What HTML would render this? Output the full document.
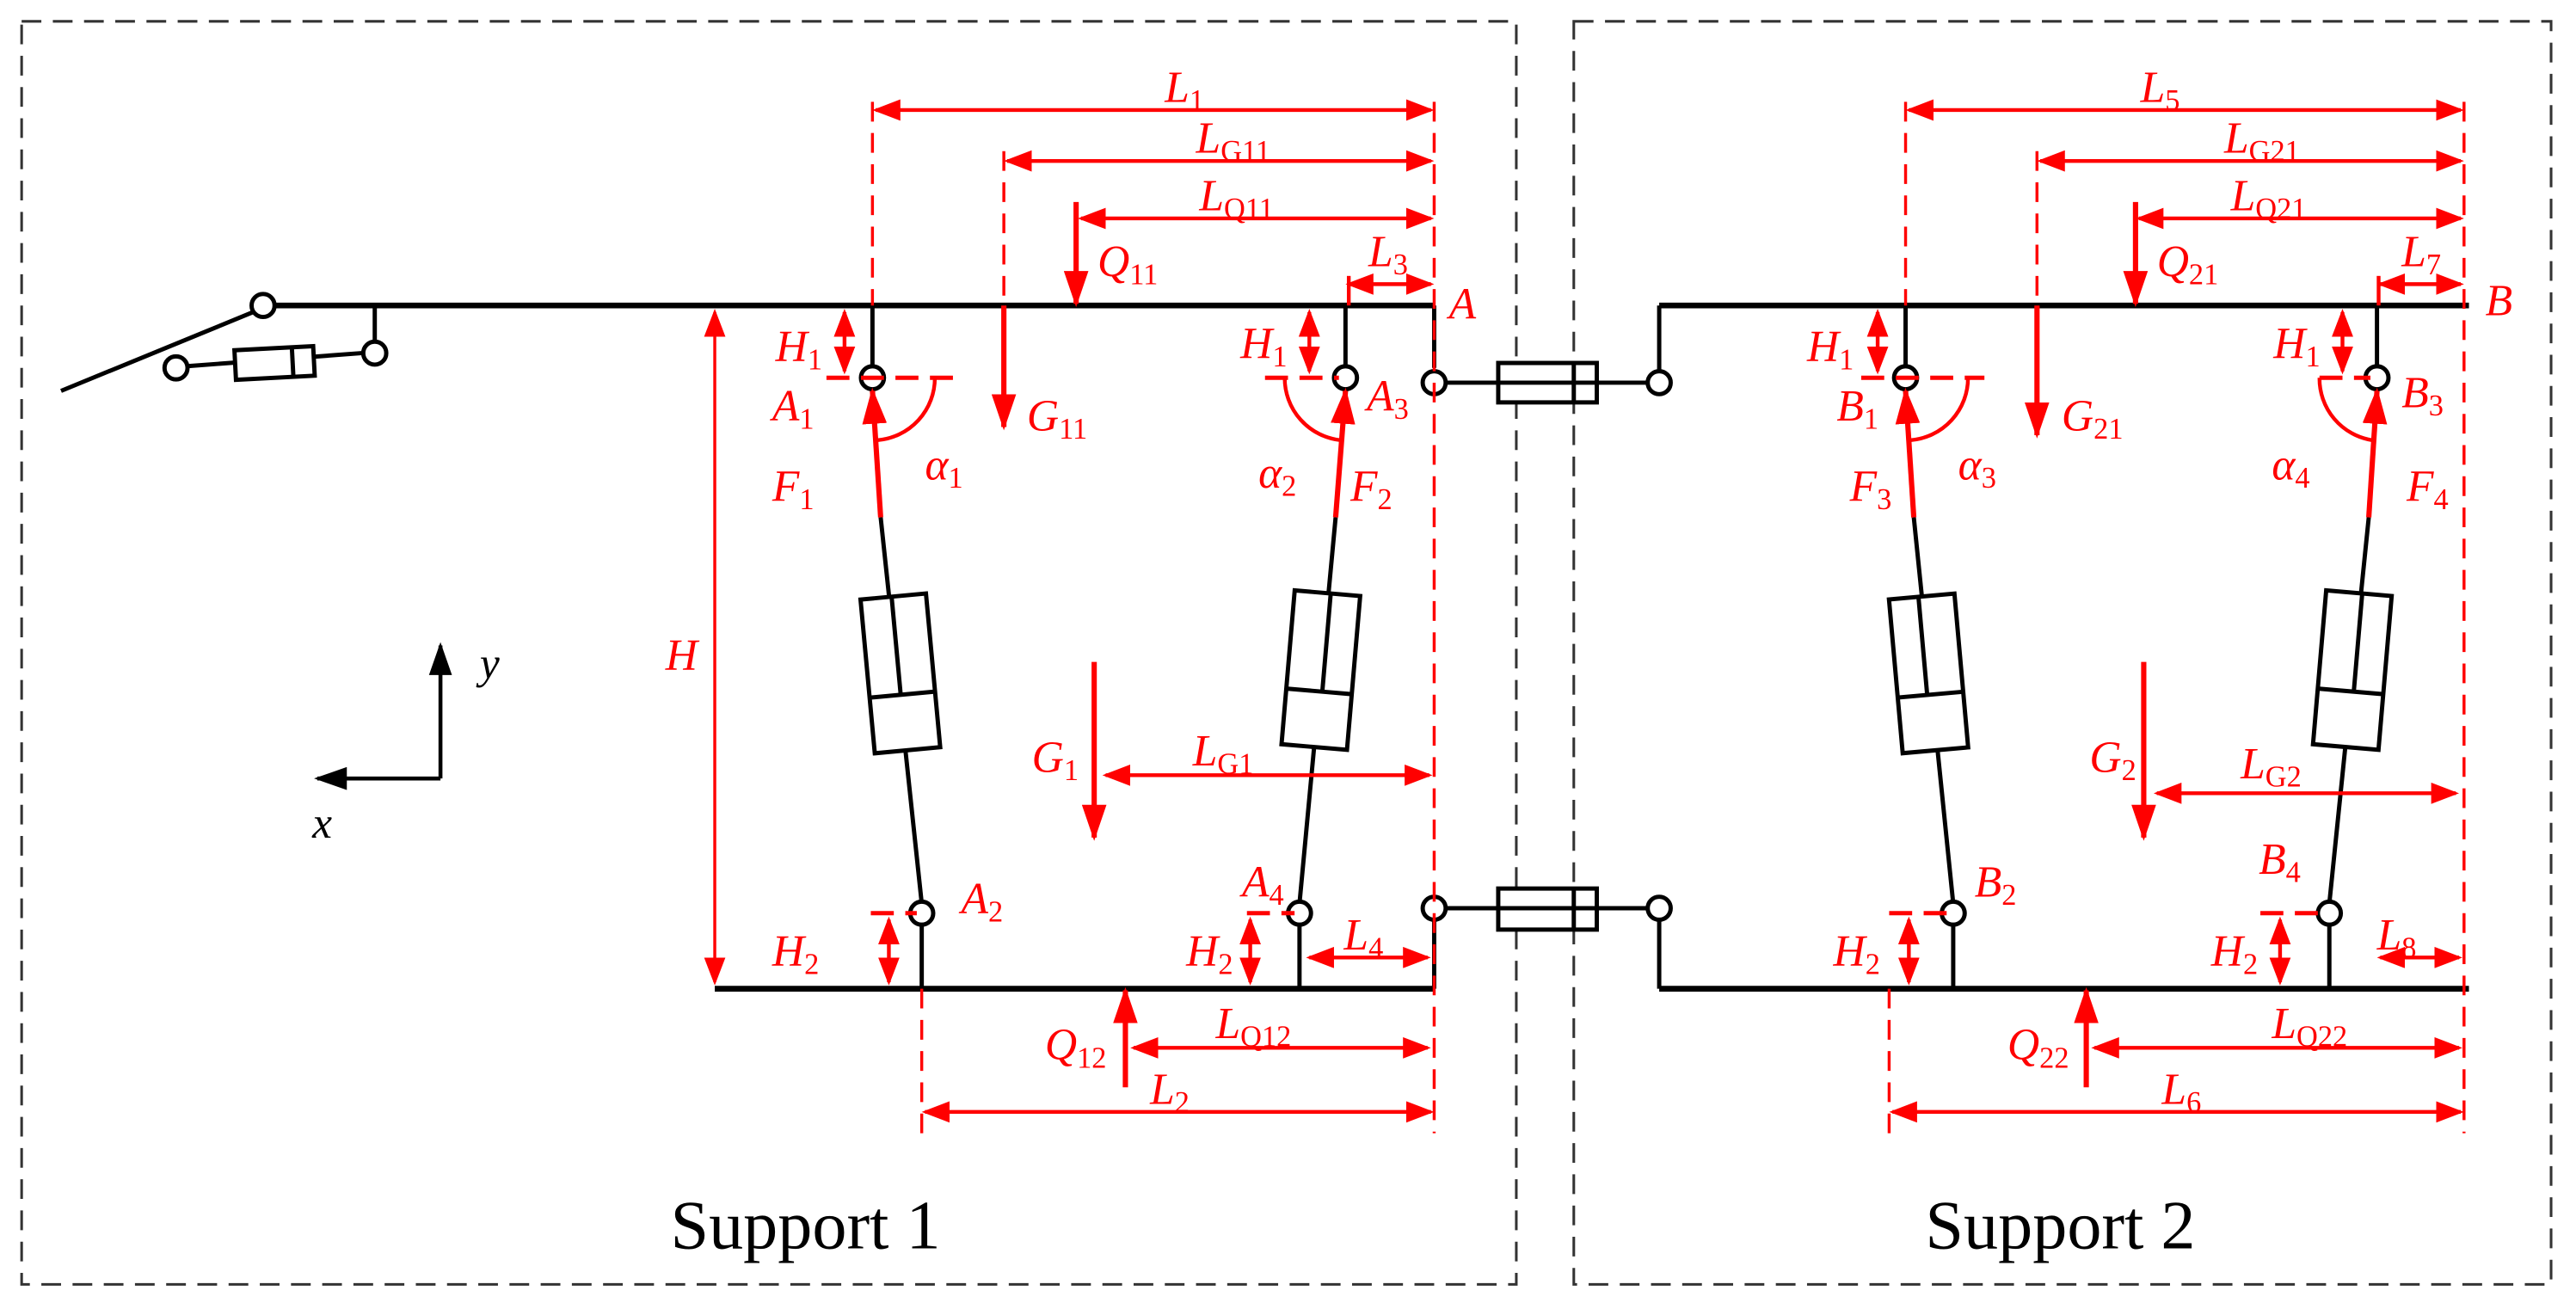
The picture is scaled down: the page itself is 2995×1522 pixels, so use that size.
<!DOCTYPE html>
<html><head><meta charset="utf-8"><style>
html,body{margin:0;padding:0;background:#fff}
svg{display:block}
text{font-family:"Liberation Serif",serif;font-style:italic;fill:#f00;font-size:27px}
.s{font-size:18px;font-style:normal}
.up{font-style:normal;fill:#000;font-size:42px}
</style></head><body>
<svg width="2995" height="1522" viewBox="0 0 1568 797" xmlns="http://www.w3.org/2000/svg">
<defs>
<marker id="d" markerUnits="userSpaceOnUse" markerWidth="17" markerHeight="13" refX="15" refY="6.5" orient="auto-start-reverse"><path d="M0,0 L17,6.5 L0,13 z" fill="#f00"/></marker>
<marker id="f" markerUnits="userSpaceOnUse" markerWidth="22" markerHeight="15" refX="20" refY="7.5" orient="auto"><path d="M0,0 L22,7.5 L0,15 z" fill="#f00"/></marker>
<marker id="k" markerUnits="userSpaceOnUse" markerWidth="20" markerHeight="14" refX="18" refY="7" orient="auto"><path d="M0,0 L20,7 L0,14 z" fill="#000"/></marker>
</defs>
<g fill="none" stroke="#333" stroke-width="1.6" stroke-dasharray="12,7">
<rect x="13" y="13" width="910" height="769"/>
<rect x="958" y="13" width="595" height="769"/>
</g>
<g stroke="#000" stroke-width="3.5" fill="none">
<line x1="167" y1="186" x2="873" y2="186"/>
<line x1="1010" y1="186" x2="1503" y2="186"/>
<line x1="435" y1="602" x2="873" y2="602"/>
<line x1="1010" y1="602" x2="1503" y2="602"/>
</g>
<g stroke="#000" stroke-width="2.6" fill="#fff">
<line x1="37" y1="238" x2="154" y2="190"/>
<circle cx="160" cy="186" r="7"/>
<line x1="113" y1="223" x2="220" y2="215"/>
<rect x="143" y="212" width="48" height="18" transform="rotate(-3 167 221)"/>
<line x1="178" y1="212" x2="178" y2="230" transform="rotate(-3 167 221)"/>
<circle cx="107" cy="224" r="7"/>
<line x1="228" y1="186" x2="228" y2="208"/>
<circle cx="228" cy="215" r="7"/>
<line x1="873" y1="186" x2="873" y2="224"/>
<line x1="880" y1="233" x2="1003" y2="233"/>
<rect x="912" y="221" width="60" height="24"/>
<line x1="958" y1="221" x2="958" y2="245"/>
<line x1="912" y1="233" x2="972" y2="233"/>
<circle cx="873" cy="233" r="7"/>
<line x1="1010" y1="186" x2="1010" y2="226"/>
<circle cx="1010" cy="233" r="7"/>
<line x1="873" y1="560" x2="873" y2="602"/>
<line x1="880" y1="553" x2="1003" y2="553"/>
<rect x="912" y="541" width="60" height="25"/>
<line x1="958" y1="541" x2="958" y2="566"/>
<line x1="912" y1="553" x2="972" y2="553"/>
<circle cx="873" cy="553" r="7"/>
<line x1="1010" y1="560" x2="1010" y2="602"/>
<circle cx="1010" cy="553" r="7"/>
<line x1="531" y1="186" x2="531" y2="223"/>
<line x1="819" y1="186" x2="819" y2="223"/>
<line x1="1160" y1="186" x2="1160" y2="223"/>
<line x1="1447" y1="186" x2="1447" y2="223"/>
<line x1="561" y1="563" x2="561" y2="602"/>
<line x1="791" y1="563" x2="791" y2="602"/>
<line x1="1189" y1="563" x2="1189" y2="602"/>
<line x1="1418" y1="563" x2="1418" y2="602"/>
<line x1="536" y1="315" x2="561" y2="550"/>
<line x1="813" y1="315" x2="791" y2="550"/>
<line x1="1165" y1="315" x2="1189" y2="550"/>
<line x1="1442" y1="315" x2="1418" y2="550"/>
<g transform="rotate(-5.3 548 410)"><rect x="528" y="363" width="40" height="94"/><line x1="528" y1="423" x2="568" y2="423"/><line x1="547" y1="363" x2="547" y2="423"/></g>
<g transform="rotate(4.9 804 408)"><rect x="784" y="361" width="40" height="94"/><line x1="784" y1="421" x2="824" y2="421"/><line x1="806" y1="361" x2="806" y2="421"/></g>
<g transform="rotate(-5.1 1174 410)"><rect x="1154" y="363" width="40" height="94"/><line x1="1154" y1="423" x2="1194" y2="423"/><line x1="1172" y1="363" x2="1172" y2="423"/></g>
<g transform="rotate(4.9 1432 408)"><rect x="1412" y="361" width="40" height="94"/><line x1="1412" y1="421" x2="1452" y2="421"/><line x1="1434" y1="361" x2="1434" y2="421"/></g>
<circle cx="531" cy="230" r="7"/><circle cx="819" cy="230" r="7"/>
<circle cx="1160" cy="230" r="7"/><circle cx="1447" cy="230" r="7"/>
<circle cx="561" cy="556" r="7"/><circle cx="791" cy="556" r="7"/>
<circle cx="1189" cy="556" r="7"/><circle cx="1418" cy="556" r="7"/>
</g>
<g stroke="#000" stroke-width="2.4" fill="none">
<line x1="268" y1="474" x2="268" y2="393" marker-end="url(#k)"/>
<line x1="268" y1="474" x2="193" y2="474" marker-end="url(#k)"/>
</g>
<text x="292" y="413" style="fill:#000">y</text>
<text x="190" y="510" style="fill:#000">x</text>
<g stroke="#f00" stroke-width="1.8" fill="none" stroke-dasharray="12,7">
<line x1="531" y1="62" x2="531" y2="186"/>
<line x1="611" y1="92" x2="611" y2="186"/>
<line x1="873" y1="62" x2="873" y2="690"/>
<line x1="561" y1="602" x2="561" y2="690"/>
<line x1="1160" y1="62" x2="1160" y2="186"/>
<line x1="1240" y1="92" x2="1240" y2="186"/>
<line x1="1500" y1="62" x2="1500" y2="690"/>
<line x1="1150" y1="602" x2="1150" y2="690"/>
</g>
<g stroke="#f00" stroke-width="2.6" fill="none" stroke-dasharray="14,7">
<line x1="503" y1="230" x2="582" y2="230"/>
<line x1="770" y1="230" x2="815" y2="230"/>
<line x1="1133" y1="230" x2="1208" y2="230"/>
<line x1="1412" y1="230" x2="1443" y2="230"/>
<line x1="530" y1="556" x2="558" y2="556"/>
<line x1="759" y1="556" x2="788" y2="556"/>
<line x1="1150" y1="556" x2="1186" y2="556"/>
<line x1="1376" y1="556" x2="1415" y2="556"/>
</g>
<g stroke="#f00" stroke-width="2.3" fill="none">
<line x1="533" y1="67" x2="871" y2="67" marker-start="url(#d)" marker-end="url(#d)"/>
<line x1="613" y1="98" x2="871" y2="98" marker-start="url(#d)" marker-end="url(#d)"/>
<line x1="658" y1="133" x2="871" y2="133" marker-start="url(#d)" marker-end="url(#d)"/>
<line x1="821" y1="173" x2="871" y2="173" marker-start="url(#d)" marker-end="url(#d)"/>
<line x1="821" y1="168" x2="821" y2="186"/>
<line x1="1162" y1="67" x2="1498" y2="67" marker-start="url(#d)" marker-end="url(#d)"/>
<line x1="1242" y1="98" x2="1498" y2="98" marker-start="url(#d)" marker-end="url(#d)"/>
<line x1="1302" y1="133" x2="1498" y2="133" marker-start="url(#d)" marker-end="url(#d)"/>
<line x1="1449" y1="173" x2="1498" y2="173" marker-start="url(#d)" marker-end="url(#d)"/>
<line x1="1448" y1="168" x2="1448" y2="186"/>
<line x1="435" y1="190" x2="435" y2="598" stroke-width="1.8" marker-start="url(#d)" marker-end="url(#d)"/>
<line x1="514" y1="190" x2="514" y2="226" marker-start="url(#d)" marker-end="url(#d)"/>
<line x1="797" y1="190" x2="797" y2="226" marker-start="url(#d)" marker-end="url(#d)"/>
<line x1="1143" y1="190" x2="1143" y2="226" marker-start="url(#d)" marker-end="url(#d)"/>
<line x1="1426" y1="190" x2="1426" y2="226" marker-start="url(#d)" marker-end="url(#d)"/>
<line x1="541" y1="560" x2="541" y2="598" marker-start="url(#d)" marker-end="url(#d)"/>
<line x1="761" y1="560" x2="761" y2="598" marker-start="url(#d)" marker-end="url(#d)"/>
<line x1="1162" y1="560" x2="1162" y2="598" marker-start="url(#d)" marker-end="url(#d)"/>
<line x1="1388" y1="560" x2="1388" y2="598" marker-start="url(#d)" marker-end="url(#d)"/>
<line x1="797" y1="583" x2="869" y2="583" marker-start="url(#d)" marker-end="url(#d)"/>
<line x1="1449" y1="583" x2="1497" y2="583" marker-start="url(#d)" marker-end="url(#d)"/>
<line x1="690" y1="638" x2="869" y2="638" marker-start="url(#d)" marker-end="url(#d)"/>
<line x1="1275" y1="638" x2="1497" y2="638" marker-start="url(#d)" marker-end="url(#d)"/>
<line x1="563" y1="677" x2="871" y2="677" marker-start="url(#d)" marker-end="url(#d)"/>
<line x1="1152" y1="677" x2="1498" y2="677" marker-start="url(#d)" marker-end="url(#d)"/>
<line x1="673" y1="472" x2="870" y2="472" marker-start="url(#d)" marker-end="url(#d)"/>
<line x1="1313" y1="483" x2="1495" y2="483" marker-start="url(#d)" marker-end="url(#d)"/>
<path d="M569,230 A38,38 0 0 1 534,268"/>
<path d="M782,230 A38,38 0 0 0 816,268"/>
<path d="M1198,230 A38,38 0 0 1 1163,268"/>
<path d="M1412,230 A38,38 0 0 0 1444,268"/>
</g>
<g stroke="#f00" stroke-width="3.2" fill="none">
<line x1="655" y1="123" x2="655" y2="185" marker-end="url(#f)"/>
<line x1="1300" y1="123" x2="1300" y2="185" marker-end="url(#f)"/>
<line x1="611" y1="186" x2="611" y2="260" marker-end="url(#f)"/>
<line x1="1240" y1="186" x2="1240" y2="265" marker-end="url(#f)"/>
<line x1="666" y1="403" x2="666" y2="510" marker-end="url(#f)"/>
<line x1="1305" y1="403" x2="1305" y2="510" marker-end="url(#f)"/>
<line x1="685" y1="662" x2="685" y2="603" marker-end="url(#f)"/>
<line x1="1270" y1="662" x2="1270" y2="603" marker-end="url(#f)"/>
<line x1="536" y1="315" x2="531" y2="238" marker-end="url(#f)"/>
<line x1="813" y1="315" x2="819" y2="238" marker-end="url(#f)"/>
<line x1="1165" y1="315" x2="1160" y2="238" marker-end="url(#f)"/>
<line x1="1442" y1="315" x2="1447" y2="238" marker-end="url(#f)"/>
</g>
<text x="709" y="62">L<tspan class="s" dy="5">1</tspan></text>
<text x="728" y="93">L<tspan class="s" dy="5">G11</tspan></text>
<text x="730" y="128">L<tspan class="s" dy="5">Q11</tspan></text>
<text x="668" y="168">Q<tspan class="s" dy="5">11</tspan></text>
<text x="833" y="162">L<tspan class="s" dy="5">3</tspan></text>
<text x="882" y="194">A</text>
<text x="472" y="220">H<tspan class="s" dy="5">1</tspan></text>
<text x="470" y="256">A<tspan class="s" dy="5">1</tspan></text>
<text x="625" y="262">G<tspan class="s" dy="5">11</tspan></text>
<text x="563" y="292">α<tspan class="s" dy="5">1</tspan></text>
<text x="470" y="305">F<tspan class="s" dy="5">1</tspan></text>
<text x="755" y="218">H<tspan class="s" dy="5">1</tspan></text>
<text x="766" y="297">α<tspan class="s" dy="5">2</tspan></text>
<text x="832" y="250">A<tspan class="s" dy="5">3</tspan></text>
<text x="822" y="305">F<tspan class="s" dy="5">2</tspan></text>
<text x="405" y="408">H</text>
<text x="585" y="556">A<tspan class="s" dy="5">2</tspan></text>
<text x="756" y="546">A<tspan class="s" dy="5">4</tspan></text>
<text x="470" y="588">H<tspan class="s" dy="5">2</tspan></text>
<text x="722" y="588">H<tspan class="s" dy="5">2</tspan></text>
<text x="818" y="578">L<tspan class="s" dy="5">4</tspan></text>
<text x="628" y="470">G<tspan class="s" dy="5">1</tspan></text>
<text x="726" y="466">L<tspan class="s" dy="5">G1</tspan></text>
<text x="636" y="645">Q<tspan class="s" dy="5">12</tspan></text>
<text x="740" y="632">L<tspan class="s" dy="5">Q12</tspan></text>
<text x="700" y="672">L<tspan class="s" dy="5">2</tspan></text>
<text x="1303" y="62">L<tspan class="s" dy="5">5</tspan></text>
<text x="1354" y="93">L<tspan class="s" dy="5">G21</tspan></text>
<text x="1358" y="128">L<tspan class="s" dy="5">Q21</tspan></text>
<text x="1313" y="168">Q<tspan class="s" dy="5">21</tspan></text>
<text x="1462" y="162">L<tspan class="s" dy="5">7</tspan></text>
<text x="1513" y="192">B</text>
<text x="1100" y="220">H<tspan class="s" dy="5">1</tspan></text>
<text x="1118" y="256">B<tspan class="s" dy="5">1</tspan></text>
<text x="1255" y="262">G<tspan class="s" dy="5">21</tspan></text>
<text x="1192" y="292">α<tspan class="s" dy="5">3</tspan></text>
<text x="1126" y="305">F<tspan class="s" dy="5">3</tspan></text>
<text x="1384" y="218">H<tspan class="s" dy="5">1</tspan></text>
<text x="1383" y="292">α<tspan class="s" dy="5">4</tspan></text>
<text x="1462" y="248">B<tspan class="s" dy="5">3</tspan></text>
<text x="1465" y="305">F<tspan class="s" dy="5">4</tspan></text>
<text x="1272" y="470">G<tspan class="s" dy="5">2</tspan></text>
<text x="1364" y="474">L<tspan class="s" dy="5">G2</tspan></text>
<text x="1202" y="546">B<tspan class="s" dy="5">2</tspan></text>
<text x="1375" y="532">B<tspan class="s" dy="5">4</tspan></text>
<text x="1116" y="588">H<tspan class="s" dy="5">2</tspan></text>
<text x="1346" y="588">H<tspan class="s" dy="5">2</tspan></text>
<text x="1447" y="578">L<tspan class="s" dy="5">8</tspan></text>
<text x="1222" y="645">Q<tspan class="s" dy="5">22</tspan></text>
<text x="1383" y="632">L<tspan class="s" dy="5">Q22</tspan></text>
<text x="1316" y="672">L<tspan class="s" dy="5">6</tspan></text>
<text class="up" x="408" y="760">Support 1</text>
<text class="up" x="1172" y="760">Support 2</text>
</svg>
</body></html>
